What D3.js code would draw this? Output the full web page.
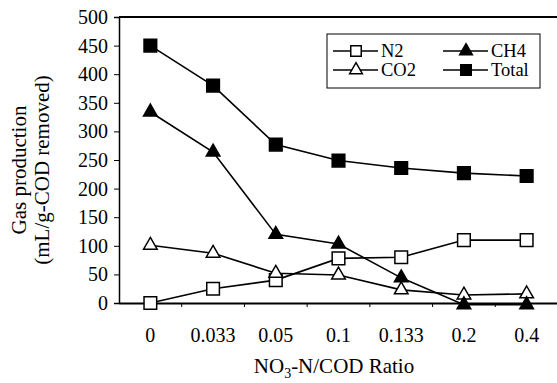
<!DOCTYPE html>
<html>
<head>
<meta charset="utf-8">
<style>
  body { margin: 0; background: #fff; }
  svg { display: block; font-family: "Liberation Serif", "DejaVu Serif", serif; }
</style>
</head>
<body>
<div id="chart"></div>
<script src="https://d3js.org/d3.v7.min.js"></script>
<script>
// data
const ratios = ["0", "0.033", "0.05", "0.1", "0.133", "0.2", "0.4"];
const n2    = [0, 25, 40, 78, 80, 110, 110];
const co2   = [101, 87, 52, 49, 23, 14, 16];
const ch4   = [334, 264, 120, 103, 44, -3, -3];
const total = [450, 380, 277, 249, 236, 227, 222];
const yTicks = [0, 50, 100, 150, 200, 250, 300, 350, 400, 450, 500];

const width = 557, height = 383;
const margin = {top: 17, right: -1, bottom: 80, left: 119};

const svg = d3.select("#chart").append("svg")
  .attr("width", width).attr("height", height);

const x = d3.scaleBand().domain(ratios)
  .range([margin.left, width - margin.right]);
const y = d3.scaleLinear().domain([0, 500])
  .range([height - margin.bottom, margin.top]);

// frame (top line, axes)
svg.append("line")
  .attr("x1", margin.left).attr("x2", width)
  .attr("y1", y(500)).attr("y2", y(500))
  .attr("stroke", "#000").attr("stroke-width", 2);

const yAxis = svg.append("g")
  .attr("transform", `translate(${margin.left},0)`)
  .call(d3.axisLeft(y).tickValues(yTicks).tickSize(5).tickPadding(6));
yAxis.select(".domain").attr("stroke-width", 1.5);
yAxis.selectAll("text").attr("font-size", 20).attr("font-family", "Liberation Serif").attr("fill", "#000");

const xAxis = svg.append("g")
  .attr("transform", `translate(0,${y(0)})`)
  .call(d3.axisBottom(x).tickSize(0).tickPadding(25));
xAxis.select(".domain").attr("stroke-width", 1.8);
xAxis.selectAll("text").attr("font-size", 20).attr("font-family", "Liberation Serif").attr("fill", "#000");

// small boundary ticks between categories
svg.append("g").selectAll("line")
  .data(ratios.slice(1))
  .join("line")
  .attr("x1", d => x(d)).attr("x2", d => x(d))
  .attr("y1", y(0)).attr("y2", y(0) + 4)
  .attr("stroke", "#000").attr("stroke-width", 1);

// axis titles
svg.append("text")
  .attr("transform", `translate(26,170) rotate(-90)`)
  .attr("text-anchor", "middle").attr("font-size", 21)
  .text("Gas production");
svg.append("text")
  .attr("transform", `translate(49,170) rotate(-90)`)
  .attr("text-anchor", "middle").attr("font-size", 21)
  .text("(mL/g-COD removed)");

const xt = svg.append("text")
  .attr("x", 334).attr("y", 373)
  .attr("text-anchor", "middle").attr("font-size", 21);
xt.append("tspan").text("NO");
xt.append("tspan").attr("font-size", 14).attr("dy", 5).text("3");
xt.append("tspan").attr("dy", -5).text("-N/COD Ratio");

// series
const cx = i => x(ratios[i]) + x.bandwidth() / 2;
const line = d3.line().x((d, i) => cx(i)).y(d => y(d));

const sq = d3.symbol().type(d3.symbolSquare).size(160);
const tri = d3.symbol().type(d3.symbolTriangle).size(80);

const series = [
  {name: "N2", values: n2, sym: sq, fill: "#fff"},
  {name: "CO2", values: co2, sym: tri, fill: "#fff"},
  {name: "CH4", values: ch4, sym: tri, fill: "#000"},
  {name: "Total", values: total, sym: sq, fill: "#000"}
];

series.forEach(s => {
  svg.append("path")
    .attr("d", line(s.values))
    .attr("fill", "none").attr("stroke", "#000").attr("stroke-width", 1.6);
});
series.forEach(s => {
  svg.append("g").selectAll("path")
    .data(s.values)
    .join("path")
    .attr("transform", (d, i) => `translate(${cx(i)},${y(d)})`)
    .attr("d", s.sym)
    .attr("fill", s.fill).attr("stroke", "#000").attr("stroke-width", 1.5);
});

// legend
const lg = svg.append("g");
lg.append("rect")
  .attr("x", 327).attr("y", 34).attr("width", 213).attr("height", 54)
  .attr("fill", "#fff").attr("stroke", "#000").attr("stroke-width", 1);
const legendPos = [
  {s: series[0], x: 333, y: 51},
  {s: series[1], x: 333, y: 70},
  {s: series[2], x: 443, y: 51},
  {s: series[3], x: 443, y: 70}
];
const legSq = d3.symbol().type(d3.symbolSquare).size(110);
const legTri = d3.symbol().type(d3.symbolTriangle).size(70);
legendPos.forEach(p => {
  lg.append("line")
    .attr("x1", p.x).attr("x2", p.x + 45)
    .attr("y1", p.y).attr("y2", p.y)
    .attr("stroke", "#000").attr("stroke-width", 1.6);
  lg.append("path")
    .attr("transform", `translate(${p.x + 23},${p.y})`)
    .attr("d", p.s.sym === sq ? legSq : legTri)
    .attr("fill", p.s.fill).attr("stroke", "#000").attr("stroke-width", 1.5);
  lg.append("text")
    .attr("x", p.x + 48).attr("y", p.y + 6)
    .attr("font-size", 18.5)
    .text(p.s.name);
});
</script>
</body>
</html>
